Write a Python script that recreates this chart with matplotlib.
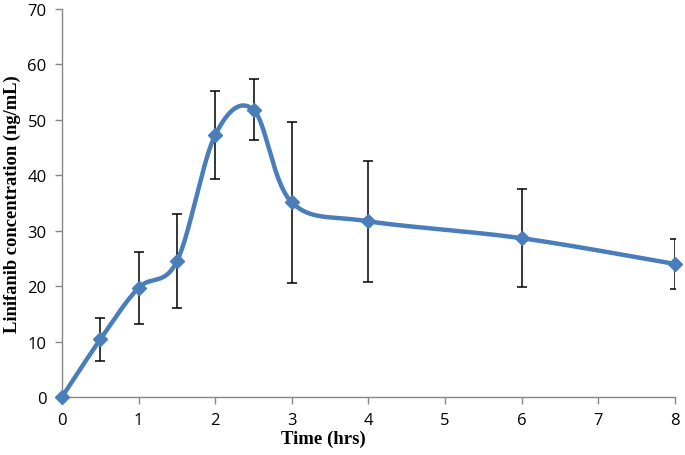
import matplotlib
matplotlib.use("Agg")
import matplotlib.pyplot as plt
import numpy as np

# sampling times (hrs) and mean concentration (ng/mL) with SD
time_hrs = [0, 0.5, 1, 1.5, 2, 2.5, 3, 4, 6, 8]
conc_mean = [0, 10.4, 19.7, 24.5, 47.3, 51.8, 35.1, 31.7, 28.65, 24.0]
conc_sd = [0, 3.9, 6.5, 8.5, 8.0, 5.5, 14.6, 10.9, 8.85, 4.5]

x_ticks = [0, 1, 2, 3, 4, 5, 6, 7, 8]
y_ticks = [0, 10, 20, 30, 40, 50, 60, 70]

LINE_BLUE = "#4a7ebb"
AXIS_GRAY = "#868686"


def smooth(xs, ys, n=40):
	# Catmull-Rom curve through the points, like Excel's "smoothed line"
	p = np.column_stack([xs, ys]).astype(float)
	p = np.vstack([p[0], p, p[-1]])
	out = []
	t = np.linspace(0, 1, n)[:, None]
	for i in range(1, len(p) - 2):
		p0, p1, p2, p3 = p[i - 1], p[i], p[i + 1], p[i + 2]
		c1 = p1 + (p2 - p0) / 6
		c2 = p2 - (p3 - p1) / 6
		seg = ((1 - t) ** 3 * p1 + 3 * (1 - t) ** 2 * t * c1
			+ 3 * (1 - t) * t ** 2 * c2 + t ** 3 * p2)
		out.append(seg if i == 1 else seg[1:])
	out = np.vstack(out)
	return out[:, 0], out[:, 1]


fig = plt.figure(figsize=(6.85, 4.56), dpi=100)
ax = fig.add_axes([0.0905, 0.1272, 0.8949, 0.8508])

sx, sy = smooth(time_hrs, conc_mean)
ax.plot(sx, sy, color=LINE_BLUE, lw=3.2, solid_capstyle="round", zorder=2)
ax.errorbar(time_hrs, conc_mean, yerr=conc_sd, fmt="none", ecolor="black",
	elinewidth=1.1, capsize=3.5, capthick=1.1, zorder=3)
ax.plot(time_hrs, conc_mean, ls="none", marker="D", ms=7.5, color=LINE_BLUE,
	clip_on=False, zorder=4)

ax.set_xlim(0, 8)
ax.set_ylim(0, 70)
ax.set_xticks(x_ticks)
ax.set_yticks(y_ticks)

for side in ("top", "right"):
	ax.spines[side].set_visible(False)
for side in ("left", "bottom"):
	ax.spines[side].set_color(AXIS_GRAY)
	ax.spines[side].set_linewidth(1.0)

ax.tick_params(axis="both", direction="out", length=5, width=1.0, color=AXIS_GRAY,
	labelsize=12, labelcolor="black", pad=6)
for lab in ax.get_xticklabels() + ax.get_yticklabels():
	lab.set_family("Open Sans")

ax.set_xlabel("Time (hrs)", family="Liberation Serif", fontweight="bold",
	fontsize=13.5, labelpad=0)
ax.xaxis.set_label_coords(0.427, -0.085)
ax.set_ylabel("Linifanib concentration (ng/mL)", family="Liberation Serif",
	fontweight="bold", fontsize=13.3, labelpad=5)

fig.savefig("out.png", dpi=100)
